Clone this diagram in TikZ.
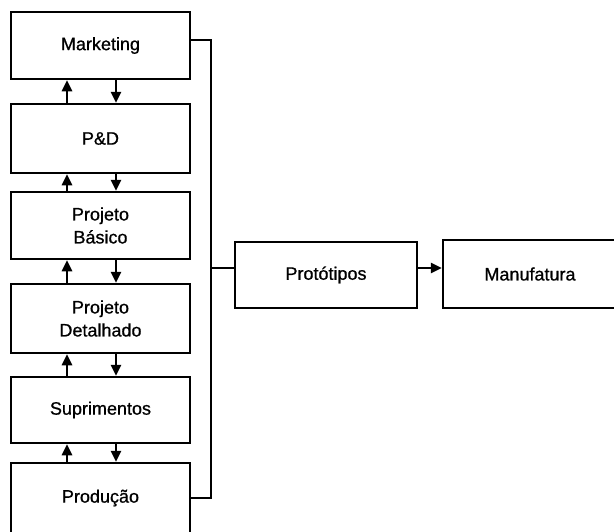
\documentclass[tikz,border=0pt]{standalone}
\usepackage{fontspec}
\setmainfont{Liberation Sans}
\newfontfamily\labfont[FakeBold=0.8]{Liberation Sans}
\usetikzlibrary{arrows.meta}
\begin{document}
\begin{tikzpicture}[x=1pt,y=-1pt,
  box/.style={draw,line width=2.5pt,minimum width=179pt,align=center,inner sep=0pt,
    font=\labfont\fontsize{18}{23}\selectfont},
  conn/.style={line width=2.5pt},
  arr/.style={line width=2.5pt,-{Triangle[length=11pt,width=10pt]}}]
\useasboundingbox (0,0) rectangle (614,531);
\clip (0,0) rectangle (614,531);
\node[box,minimum height=67pt] (mk) at (100.5,45.5) {Marketing};
\node[box,minimum height=69pt] (pd) at (100.5,138.5) {P\&D};
\node[box,minimum height=67pt] (pb) at (100.5,225.5) {Projeto\\Básico};
\node[box,minimum height=69pt] (pdt) at (100.5,318.5) {Projeto\\Detalhado};
\node[box,minimum height=66pt] (sup) at (100.5,410) {Suprimentos};
\node[box,minimum height=70pt] (prod) at (100.5,498) {Produção};
\node[box,minimum width=182pt,minimum height=66pt] (prot) at (326,275) {Protótipos};
\node[box,minimum width=174pt,minimum height=68pt] (man) at (530,274) {Manufatura};
\coordinate (xu) at (67,0);
\coordinate (xd) at (116,0);
\foreach \a/\b in {mk/pd,pd/pb,pb/pdt,pdt/sup,sup/prod}{
  \draw[arr] (\b.north -| xu) -- (\a.south -| xu);
  \draw[arr] (\a.south -| xd) -- (\b.north -| xd);
}
\coordinate (bt) at (211,40);
\coordinate (bb) at (211,498);
\coordinate (bm) at (211,268);
\draw[conn] (mk.east |- bt) -- (bt) -- (bb) -- (prod.east |- bb);
\draw[conn] (bm) -- (prot.west |- bm);
\draw[arr] (prot.east |- bm) -- (man.west |- bm);
\end{tikzpicture}
\end{document}
